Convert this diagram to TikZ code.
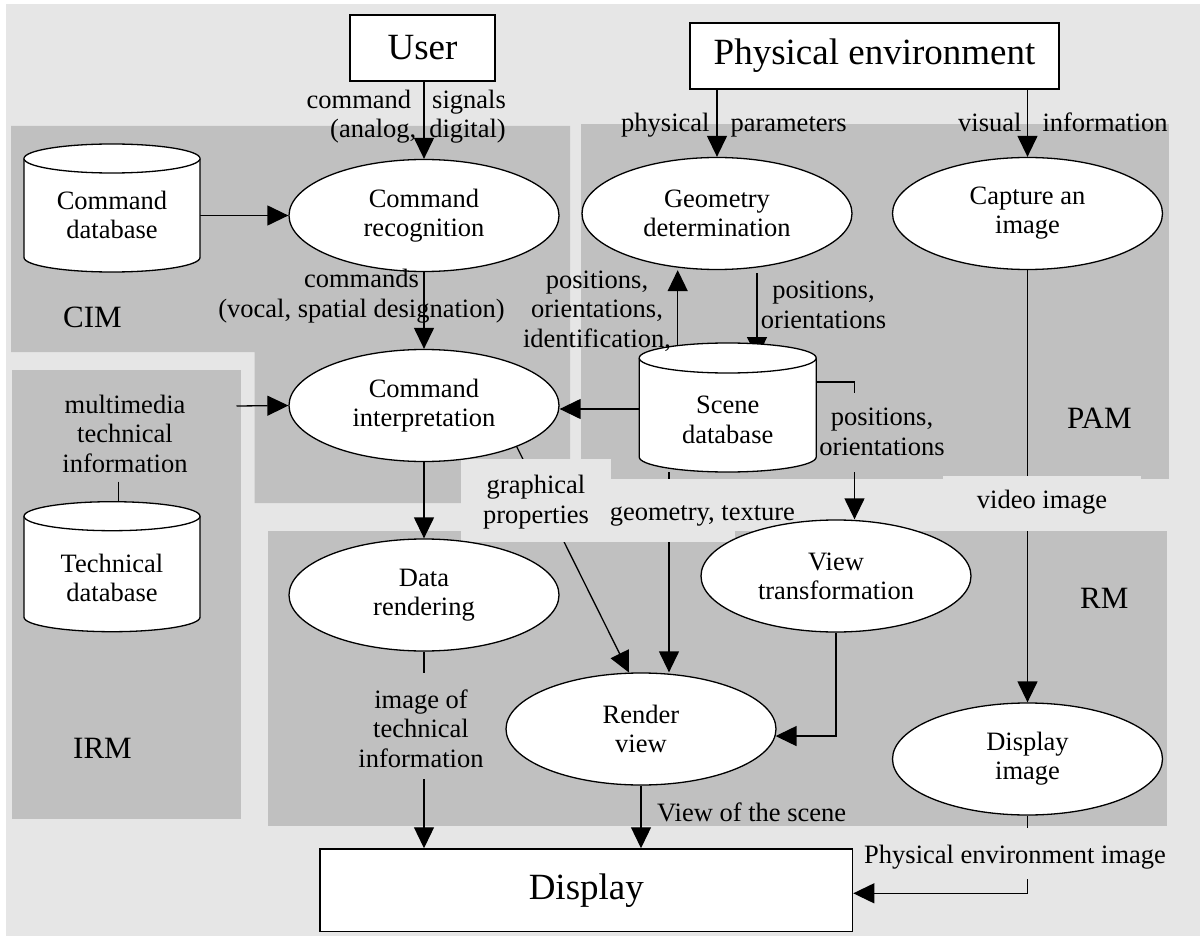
\documentclass[tikz,border=0pt]{standalone}
\usepackage{fontspec}
\setmainfont{Liberation Serif}
\usetikzlibrary{arrows.meta,shapes.geometric,calc}
\pgfdeclarelayer{bg}
\pgfdeclarelayer{lines}
\pgfdeclarelayer{patch}
\pgfsetlayers{bg,lines,patch,main}
\definecolor{lightbg}{HTML}{E6E6E6}
\definecolor{panel}{HTML}{C0C0C0}
\newcommand\dbcyl[5]{% cx, top, bottom, rx, ry
  \filldraw[cyl] ({#1-#4},{#2+#5}) -- ({#1-#4},{#3-#5})
    arc[start angle=180,end angle=0,x radius=#4,y radius=#5]
    -- ({#1+#4},{#2+#5})
    arc[start angle=0,end angle=-180,x radius=#4,y radius=#5] -- cycle;
  \draw[cyl] ({#1-#4},{#2+#5}) arc[start angle=180,end angle=0,x radius=#4,y radius=#5];
}
\begin{document}
\begin{tikzpicture}[x=1pt,y=-1pt,
  lbl/.style={font=\fontsize{26.5}{29.5}\selectfont, inner sep=0pt, align=center},
  proc/.style={ellipse, draw, fill=white, line width=1.3pt, minimum width=270pt,
    minimum height=112pt, inner sep=0pt, align=center, font=\fontsize{26.5}{29}\selectfont},
  ent/.style={rectangle, draw, fill=white, line width=1.4pt, inner sep=0pt,
    font=\fontsize{37}{40}\selectfont},
  dbtext/.style={inner sep=0pt, align=center, minimum width=176pt,
    font=\fontsize{26.5}{29.5}\selectfont},
  cyl/.style={draw=black, fill=white, line width=1.3pt},
  arr/.style={line width=1.3pt, -{Triangle[length=21pt,width=20pt]}},
  conn/.style={line width=1.3pt},
  modl/.style={font=\fontsize{31}{34}\selectfont, inner sep=0pt, anchor=base west},
]
\useasboundingbox (0,0) rectangle (1200,936);

% ---------- background and module panels ----------
\begin{pgfonlayer}{bg}
  \fill[white] (0,0) rectangle (1200,936);
  \fill[lightbg] (6,4) rectangle (1200,936);
  \fill[panel] (11,126) -- (570,126) -- (570,503) -- (254.5,503) -- (254.5,352) -- (11,352) -- cycle;
  \fill[panel] (580.5,124) rectangle (1169,479);
  \fill[panel] (12,370) rectangle (241,819);
  \fill[panel] (268,531) rectangle (1167,826);
\end{pgfonlayer}

% ---------- label background patches ----------
\begin{pgfonlayer}{patch}
  \fill[lightbg] (461,459) rectangle (611,541.7);
  \fill[lightbg] (611,479) rectangle (735,541.7);
  \fill[lightbg] (943,475.7) rectangle (1141,531);
  \fill[panel] (818,393) rectangle (946,472);
  \fill[panel] (352,673) rectangle (490,779);
  \fill[lightbg] (858,828) rectangle (1172,879);
\end{pgfonlayer}

% ---------- entities ----------
\node[ent, minimum width=145pt, minimum height=66pt] (user) at (422.5,48) {User};
\node[ent, minimum width=369pt, minimum height=66pt] (phys) at (874.5,56) {Physical environment};
\node[ent, minimum width=532.6pt, minimum height=82.7pt] (display) at (586.3,890.3) {Display};

% ---------- processes ----------
\node[proc] (crec)   at (424,215.5) {Command\\recognition};
\node[proc] (cint)   at (424,405.5) {Command\\interpretation};
\node[proc] (geo)    at (717,213.5) {Geometry\\determination};
\node[proc] (cap)    at (1027.5,213.5) {Capture an\\image};
\node[proc] (drend)  at (424,595) {Data\\rendering};
\node[proc] (vtrans) at (836,576) {View\\transformation};
\node[proc] (rview)  at (641,729) {Render\\view};
\node[proc] (dimg)   at (1027.5,759) {Display\\image};

% ---------- databases ----------
\dbcyl{112}{144}{272}{88}{14.5}
\node[dbtext, minimum height=99pt] (cdb) at (112,215) {Command\\database};
\dbcyl{727.7}{343}{472}{88.5}{15}
\node[dbtext, minimum height=99pt] (sdb) at (727.7,420) {Scene\\database};
\dbcyl{112}{501.7}{631.7}{88}{14.5}
\node[dbtext, minimum height=99pt] (tdb) at (112,578) {Technical\\database};

% ---------- labels (base = baseline of the last line) ----------
\node[lbl, align=right, anchor=base east] (lcs) at (506,138) {command\hspace{21pt}signals\\(analog,\hspace{13pt}digital)};
\node[lbl, anchor=base] (lcm) at (361.5,317) {commands\\(vocal, spatial designation)};
\node[lbl, anchor=base] (mm) at (125,472) {multimedia\\technical\\information};
\node[lbl, anchor=base west] (lpp) at (621,132) {physical\hspace{21pt}parameters};
\node[lbl, anchor=base west] (lvi) at (958,132) {visual\hspace{21pt}information};
\node[lbl, anchor=base] (lpoi) at (597,347) {positions,\\orientations,\\identification,};
\node[lbl, anchor=base] (lpo1) at (823.5,328) {positions,\\orientations};
\node[lbl, anchor=base] (lpo2) at (882,455) {positions,\\orientations};
\node[lbl, anchor=base] (lgp) at (536,523) {graphical\\properties};
\node[lbl, anchor=base west] (lgt) at (609.6,520) {geometry, texture};
\node[lbl, anchor=base] (lvid) at (1042,508) {video image};
\node[lbl, anchor=base] (lit) at (421,767) {image of\\technical\\information};
\node[lbl, anchor=base west] (lvs) at (657,821.7) {View of the scene};
\node[lbl, anchor=base west] (lpe) at (864,863) {Physical environment image};

\node[modl] (mcim) at (63,327) {CIM};
\node[modl] (mpam) at (1067,428) {PAM};
\node[modl] (mrm)  at (1080,608) {RM};
\node[modl] (mirm) at (73,758) {IRM};

% ---------- connector end points ----------
\coordinate (mmout) at (236.5,406);
\coordinate (mmbot) at (118.6,481.7);
\coordinate (tdbcap) at (118.6,519);
\coordinate (sdbW) at ($(sdb.center)+(-88,-11)$);
\coordinate (sdbA) at ($(sdb.center)+(-50,-64)$);
\coordinate (geoB) at ($(geo.south)+(40,3)$);
\coordinate (sdbcap) at (757,358);
\coordinate (sdbE) at (816.5,382);
\coordinate (sdbB) at (669,472);

% ---------- connectors ----------
\begin{pgfonlayer}{lines}
  \draw[arr] (crec.north |- user.south) -- (crec.north);
  \draw[arr] (crec.west -| cdb.east) -- (crec.west);
  \draw[arr] (crec.south) -- (cint.north);
  \draw[arr] (mmout) -- (cint.west);
  \draw[conn] (mmbot) -- (tdbcap);
  \draw[arr] (sdbW) -- (sdbW -| cint.east);
  \draw[arr] (geo.north |- phys.south) -- (geo.north);
  \draw[arr] (cap.north |- phys.south) -- (cap.north);
  \draw[arr] (sdbA) -- (sdbA |- geo.south);
  \draw[arr] (geoB) -- (geoB |- sdbcap);
  \draw[arr] (sdbE) -| ($(vtrans.north)+(18.5,0)$);
  \draw[arr] (sdbB) -- (sdbB |- rview.north);
  \draw[arr] (cint.-24.5) -- (rview.102);
  \draw[arr] (cint.south) -- (drend.north);
  \draw[arr] (drend.south) -- (drend.south |- display.north);
  \draw[arr] (vtrans.south) |- (rview.-3);
  \draw[arr] (rview.south) -- (rview.south |- display.north);
  \draw[arr] (cap.south) -- (dimg.north);
  \draw[arr] (dimg.south) |- ($(display.east)+(0,3)$);
\end{pgfonlayer}
\end{tikzpicture}
\end{document}
